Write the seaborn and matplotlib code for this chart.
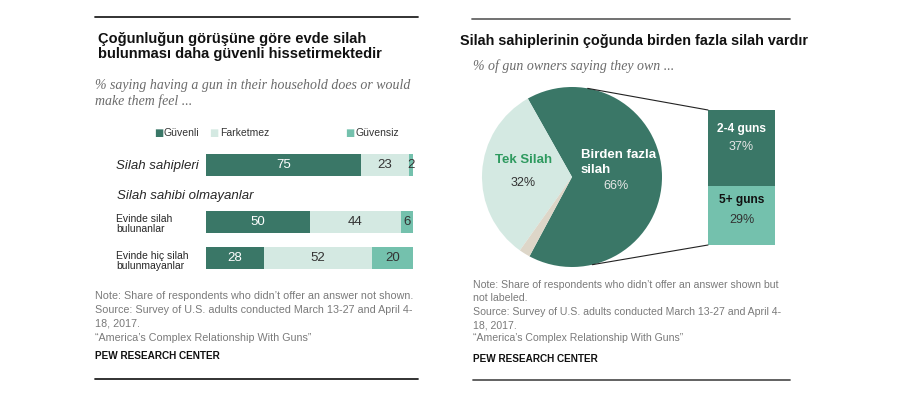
import numpy as np
import pandas as pd
import seaborn as sns
import matplotlib.pyplot as plt
from matplotlib.patches import ConnectionPatch
from matplotlib.lines import Line2D

# Left chart data
groups = ["Silah sahipleri", "Evinde silah\nbulunanlar", "Evinde hiç silah\nbulunmayanlar"]
guvenli = [75, 50, 28]
farketmez = [23, 44, 52]
guvensiz = [2, 6, 20]
legend_labels = ["Güvenli", "Farketmez", "Güvensiz"]

# Right chart data
pie_labels = ["Birden fazla silah", "Tek Silah", "Cevap yok"]
pie_values = [66, 32, 2]
box_labels = ["2-4 guns", "5+ guns"]
box_values = [37, 29]

DARK = "#3a7767"
LIGHT = "#d4e9e2"
MID = "#74c1ad"
BEIGE = "#ddd6c8"
GRAY = "#7a7a7a"

sns.set_theme(style="white")
plt.rcParams["font.family"] = ["Liberation Sans", "DejaVu Sans"]

W, H = 908, 396
fig = plt.figure(figsize=(W / 100, H / 100), dpi=100)


def fx(x):
    return x / W


def fy(y):
    return 1 - y / H


def rect(x0, y0, x1, y1):
    return [fx(x0), fy(y1), (x1 - x0) / W, (y1 - y0) / H]


# ---------- left panel ----------
fig.add_artist(Line2D([fx(95), fx(418)], [fy(17), fy(17)], color="#222222", lw=1.3))
fig.add_artist(Line2D([fx(95), fx(418)], [fy(379), fy(379)], color="#222222", lw=1.3))

fig.text(fx(98), fy(39), "Çoğunluğun görüşüne göre evde silah", fontsize=10.5,
         fontweight="bold", va="center", color="#111111")
fig.text(fx(98), fy(54), "bulunması daha güvenli hissetirmektedir", fontsize=10.5,
         fontweight="bold", va="center", color="#111111")
fig.text(fx(95), fy(85), "% saying having a gun in their household does or would",
         fontsize=10, style="italic", family="Liberation Serif", color="#6b6b6b", va="center")
fig.text(fx(95), fy(101), "make them feel ...",
         fontsize=10, style="italic", family="Liberation Serif", color="#6b6b6b", va="center")

# legend
leg_pos = [(154, 163), (209, 220), (345, 355)]
for (sx, tx), lab, col in zip(leg_pos, legend_labels, [DARK, LIGHT, MID]):
    fig.text(fx(sx), fy(133), "■", color=col, fontsize=7, va="center",
             family=["DejaVu Sans"])
    fig.text(fx(tx), fy(133), lab, color="#333333", fontsize=7.5, va="center")

df = pd.DataFrame({"group": groups, "guvenli": guvenli,
                   "farketmez": farketmez, "guvensiz": guvensiz})
df["c1"] = df["guvenli"]
df["c2"] = df["c1"] + df["farketmez"]
df["c3"] = df["c2"] + df["guvensiz"]

ax_top = fig.add_axes(rect(206, 147, 413, 183))
ax_bot = fig.add_axes(rect(206, 204, 413, 276))

for ax, sub in [(ax_top, df.iloc[:1]), (ax_bot, df.iloc[1:])]:
    for col, colr in [("c3", MID), ("c2", LIGHT), ("c1", DARK)]:
        sns.barplot(data=sub, y="group", x=col, color=colr, orient="h",
                    width=0.61, saturation=1, errorbar=None, linewidth=0, ax=ax)
    for i, (_, r) in enumerate(sub.iterrows()):
        ax.text(r["guvenli"] / 2, i, str(r["guvenli"]), color="white",
                ha="center", va="center", fontsize=9.5)
        ax.text(r["c1"] + r["farketmez"] / 2, i, str(r["farketmez"]), color="#333333",
                ha="center", va="center", fontsize=9.5)
        ax.text(r["c2"] + r["guvensiz"] / 2, i, str(r["guvensiz"]), color="#333333",
                ha="center", va="center", fontsize=9.5)
    ax.set_xlim(0, 100)
    ax.set_axis_off()

fig.text(fx(199), fy(166), groups[0], ha="right", va="center", fontsize=9.5, style="italic")
fig.text(fx(117), fy(196), "Silah sahibi olmayanlar", ha="left", va="center",
         fontsize=9.5, style="italic")
fig.text(fx(116), fy(224), groups[1], ha="left", va="center", fontsize=7.5, linespacing=1.05)
fig.text(fx(116), fy(261), groups[2], ha="left", va="center", fontsize=7.5, linespacing=1.05)

note_font = ["Liberation Sans Narrow", "Liberation Sans"]
left_notes = [
    (296, "Note: Share of respondents who didn’t offer an answer not shown."),
    (310, "Source: Survey of U.S. adults conducted March 13-27 and April 4-"),
    (324, "18, 2017."),
    (338, "“America’s Complex Relationship With Guns”"),
]
for y, t in left_notes:
    fig.text(fx(95), fy(y), t, fontsize=7.75, color=GRAY, va="center", family=note_font)
fig.text(fx(95), fy(356), "PEW RESEARCH CENTER", fontsize=7.2, fontweight="bold",
         color="#111111", va="center", family=note_font)

# ---------- right panel ----------
fig.add_artist(Line2D([fx(472), fx(790)], [fy(19), fy(19)], color="#666666", lw=1.3))
fig.add_artist(Line2D([fx(473), fx(790)], [fy(380), fy(380)], color="#555555", lw=1.3))

fig.text(fx(460), fy(41), "Silah sahiplerinin çoğunda birden fazla silah vardır",
         fontsize=10.35, fontweight="bold", va="center", color="#111111")
fig.text(fx(473), fy(66), "% of gun owners saying they own ...", fontsize=10,
         style="italic", family="Liberation Serif", color="#6b6b6b", va="center")

ax_pie = fig.add_axes(rect(482, 87, 662, 267))
ax_pie.pie(pie_values, colors=[DARK, LIGHT, BEIGE], startangle=-118.2,
           counterclock=True, wedgeprops=dict(linewidth=0))
ax_pie.set_xlim(-1, 1)
ax_pie.set_ylim(-1, 1)
ax_pie.set_axis_off()

ax_pie.text(-0.54, 0.19, pie_labels[1], color="#2e9a5f", fontweight="bold",
            fontsize=9.5, ha="center", va="center")
ax_pie.text(-0.54, -0.07, f"{pie_values[1]}%", color="#333333", fontsize=9,
            ha="center", va="center")
ax_pie.text(0.1, 0.16, "Birden fazla\nsilah", color="white", fontweight="bold",
            fontsize=9.5, ha="left", va="center", linespacing=1.35)
ax_pie.text(0.49, -0.1, f"{pie_values[0]}%", color="#e6e6e6", fontsize=9,
            ha="center", va="center")

box = pd.DataFrame({"k": ["all"], "total": [sum(box_values)], "low": [box_values[1]]})
ax_box = fig.add_axes(rect(708, 110, 775, 245))
sns.barplot(data=box, x="k", y="total", color=DARK, width=1, saturation=1,
            errorbar=None, linewidth=0, ax=ax_box)
sns.barplot(data=box, x="k", y="low", color=MID, width=1, saturation=1,
            errorbar=None, linewidth=0, ax=ax_box)
ax_box.set_xlim(-0.5, 0.5)
ax_box.set_ylim(0, sum(box_values))
ax_box.set_axis_off()
top_mid = box_values[1] + box_values[0] / 2
ax_box.text(0, top_mid + 9.2, box_labels[0], color="white", fontweight="bold",
            fontsize=8.6, ha="center", va="center")
ax_box.text(0, top_mid + 0.4, f"{box_values[0]}%", color="#e6e6e6", fontsize=9,
            ha="center", va="center")
low_mid = box_values[1] / 2
ax_box.text(0, low_mid + 7.5, box_labels[1], color="#111111", fontweight="bold",
            fontsize=8.6, ha="center", va="center")
ax_box.text(0, low_mid - 2.3, f"{box_values[1]}%", color="#333333", fontsize=9,
            ha="center", va="center")

for ang, yb in [(80, sum(box_values)), (-77, 0)]:
    a = np.deg2rad(ang)
    con = ConnectionPatch(xyA=(np.cos(a), np.sin(a)), coordsA=ax_pie.transData,
                          xyB=(-0.5, yb), coordsB=ax_box.transData,
                          color="#222222", lw=0.8)
    fig.add_artist(con)

right_notes = [
    (285, "Note: Share of respondents who didn’t offer an answer shown but"),
    (298, "not labeled."),
    (312, "Source: Survey of U.S. adults conducted March 13-27 and April 4-"),
    (325, "18, 2017."),
    (338, "“America’s Complex Relationship With Guns”"),
]
for y, t in right_notes:
    fig.text(fx(473), fy(y), t, fontsize=7.6, color=GRAY, va="center", family=note_font)
fig.text(fx(473), fy(359), "PEW RESEARCH CENTER", fontsize=7.2, fontweight="bold",
         color="#111111", va="center", family=note_font)

fig.savefig("out.png", dpi=100, facecolor="white")
